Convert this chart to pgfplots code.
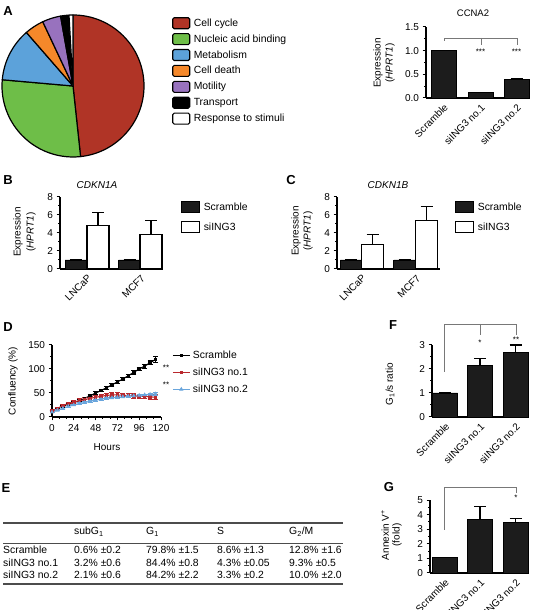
\documentclass[border=0pt]{standalone}
\usepackage{fontspec}
\setmainfont{Liberation Sans}
\setsansfont{Liberation Sans}
\usepackage{pgfplots}
\pgfplotsset{compat=1.18}
\definecolor{ccred}{RGB}{176,52,38}
\definecolor{nagreen}{RGB}{110,190,72}
\definecolor{metblue}{RGB}{92,162,218}
\definecolor{cdorange}{RGB}{245,136,42}
\definecolor{motpurple}{RGB}{152,114,190}
\definecolor{lred}{RGB}{185,40,45}
\definecolor{lblue}{RGB}{105,165,220}
\definecolor{bargray}{RGB}{28,28,28}
\definecolor{brk}{RGB}{120,120,120}
\newcommand{\fs}[1]{\fontsize{#1}{#1}\selectfont}
\newcommand{\pieslice}[3]{\filldraw[fill=#3, draw=black, line width=1.2pt, line join=round] (axis cs:0,0) -- ++({90-3.6*(#1)}:71pt) arc[start angle={90-3.6*(#1)}, delta angle={-3.6*(#2)}, radius=71pt] -- cycle;}
\pgfplotsset{
  gp/.style={
    scale only axis, clip=false,
    axis x line*=bottom, axis y line*=left,
    axis line style={-, line width=1.1pt, black},
    tick align=outside,
    major tick length=3.5pt, minor tick length=2pt,
    every tick/.style={black, line width=1pt},
    tick label style={font=\fs{10}},
    /pgf/number format/assume math mode=true,
    ymin=0,
  },
  gpbar/.style={
    gp, xmin=0,
    xtick style={draw=none},
    xticklabel style={rotate=45, anchor=north east, inner sep=1pt},
  },
  mybar/.style={ybar, bar shift=0pt, bar width=#1, line width=0.8pt,
    error bars/y dir=plus, error bars/y explicit,
    error bars/error mark options={rotate=90, mark size=6pt, line width=1.1pt, black},
    error bars/error bar style={line width=1.1pt, black}},
  errD/.style={error bars/y dir=both, error bars/y explicit,
    error bars/error mark options={rotate=90, mark size=2.5pt, line width=0.9pt},
    error bars/error bar style={line width=0.9pt}},
  boxlegend/.style={legend image code/.code={\draw[##1, line width=1.1pt] (0pt,-5.5pt) rectangle (18pt,5.5pt);}},
}
\begin{document}
\begin{tikzpicture}[x=1pt,y=1pt]
\useasboundingbox (0,0) rectangle (543,610);

% ---------- panel letters ----------
\begin{scope}[every node/.style={font=\bfseries\fs{13}}]
\node at (8,599) {A};
\node at (8,430) {B};
\node at (291,430) {C};
\node at (8,283) {D};
\node at (6,122) {E};
\node at (393,285) {F};
\node at (389,123) {G};
\end{scope}

% ---------- A: pie ----------
\begin{axis}[at={(73pt,524pt)}, anchor=center, hide axis, scale only axis,
  width=142pt, height=142pt, xmin=-1, xmax=1, ymin=-1, ymax=1, clip=false,
  legend image code/.code={\draw[#1, line width=1.1pt, rounded corners=1.5pt] (0pt,-5.5pt) rectangle (17pt,5.5pt);},
  legend style={draw=none, fill=none, at={(1.197,0.986)}, anchor=north west,
    font=\fs{10.4}, row sep=3.8pt, inner sep=0pt, column sep=3pt, nodes={inner sep=0.5pt}},
  legend cell align=left]
\pieslice{0}{48.3}{ccred}
\pieslice{48.3}{28.1}{nagreen}
\pieslice{76.4}{12.2}{metblue}
\pieslice{88.6}{4.4}{cdorange}
\pieslice{93.0}{4.2}{motpurple}
\pieslice{97.2}{1.9}{black}
\pieslice{99.1}{0.9}{white}
\addlegendimage{fill=ccred, draw=black}\addlegendentry{Cell cycle}
\addlegendimage{fill=nagreen, draw=black}\addlegendentry{Nucleic acid binding}
\addlegendimage{fill=metblue, draw=black}\addlegendentry{Metabolism}
\addlegendimage{fill=cdorange, draw=black}\addlegendentry{Cell death}
\addlegendimage{fill=motpurple, draw=black}\addlegendentry{Motility}
\addlegendimage{fill=black, draw=black}\addlegendentry{Transport}
\addlegendimage{fill=white, draw=black}\addlegendentry{Response to stimuli}
\end{axis}

% ---------- A: CCNA2 ----------
\begin{axis}[gpbar, at={(426pt,512pt)}, anchor=south west, width=104pt, height=71pt,
  xmax=104, ymax=1.5, ytick={0,0.5,1,1.5}, minor y tick num=1,
  yticklabel style={/pgf/number format/fixed, /pgf/number format/fixed zerofill, /pgf/number format/precision=1},
  xtick={17.5,54.5,90.5}, xticklabels={Scramble, siING3 no.1, siING3 no.2}]
\addplot[fill=bargray, draw=black, mybar=25pt] coordinates {(17.5,1.0) +- (0,0.01) (54.5,0.11) +- (0,0.01) (90.5,0.40) +- (0,0.02)};
\end{axis}
\node[font=\fs{9.5}] at (473,597) {CCNA2};
\node[rotate=90, font=\fs{10}] at (378,547) {Expression};
\node[rotate=90, font=\fs{10}] at (390,547) {(\textit{HPRT1})};
\draw[brk, line width=0.8pt] (444,569) -- (444,572) -- (517,572) -- (517,565);
\draw[brk, line width=0.8pt] (481,572) -- (481,565);
\node[font=\fs{8}] at (480.5,558) {***};
\node[font=\fs{8}] at (516.5,558) {***};

% ---------- B ----------
\begin{axis}[gpbar, at={(60pt,341pt)}, anchor=south west, width=102pt, height=72pt,
  xmax=102, ymax=8, ytick={0,2,4,6,8}, minor y tick num=1,
  xtick={27,80.5}, xticklabels={LNCaP, MCF7},
  boxlegend,
  legend style={draw=none, fill=none, at={(1.186,0.944)}, anchor=north west,
    font=\fs{10.4}, row sep=7.9pt, inner sep=0pt, column sep=3pt, nodes={inner sep=0.5pt}},
  legend cell align=left]
\addplot[fill=bargray, draw=black, forget plot, mybar=22pt] coordinates {(16,1.0) +- (0,0) (69.5,1.0) +- (0,0)};
\addplot[fill=white, draw=black, forget plot, mybar=22pt, line width=1.3pt] coordinates {(38,4.8) +- (0,1.5) (91,3.8) +- (0,1.6)};
\addlegendimage{fill=bargray, draw=black}\addlegendentry{Scramble}
\addlegendimage{fill=white, draw=black}\addlegendentry{siING3}
\end{axis}
\node[font=\itshape\fs{10}] at (97,425) {CDKN1A};
\node[rotate=90, font=\fs{10}] at (18,378) {Expression};
\node[rotate=90, font=\fs{10}] at (31,378) {(\textit{HPRT1})};

% ---------- C ----------
\begin{axis}[gpbar, at={(337pt,341pt)}, anchor=south west, width=103pt, height=72pt,
  xmax=103, ymax=8, ytick={0,2,4,6,8}, minor y tick num=1,
  xtick={24.5,79}, xticklabels={LNCaP, MCF7},
  boxlegend,
  legend style={draw=none, fill=none, at={(1.146,0.944)}, anchor=north west,
    font=\fs{10.4}, row sep=7.9pt, inner sep=0pt, column sep=3pt, nodes={inner sep=0.5pt}},
  legend cell align=left]
\addplot[fill=bargray, draw=black, forget plot, mybar=21.5pt] coordinates {(14,1.0) +- (0,0) (67.5,1.0) +- (0,0)};
\addplot[fill=white, draw=black, forget plot, mybar=21.5pt, line width=1.3pt] coordinates {(35.5,2.7) +- (0,1.1) (89.5,5.4) +- (0,1.5)};
\addlegendimage{fill=bargray, draw=black}\addlegendentry{Scramble}
\addlegendimage{fill=white, draw=black}\addlegendentry{siING3}
\end{axis}
\node[font=\itshape\fs{10}] at (388,425) {CDKN1B};
\node[rotate=90, font=\fs{10}] at (296,379) {Expression};
\node[rotate=90, font=\fs{10}] at (308,379) {(\textit{HPRT1})};

% ---------- D ----------
\begin{axis}[gp, at={(52pt,193pt)}, anchor=south west, width=109pt, height=72pt,
  xmin=0, xmax=120, ymax=150, xtick={0,24,48,72,96,120}, minor x tick num=2,
  ytick={0,50,100,150}, minor y tick num=1,
  legend style={draw=none, fill=none, at={(1.101,0.93)}, anchor=north west,
    font=\fs{10.4}, row sep=7pt, inner sep=0pt, column sep=2pt, nodes={inner sep=0.5pt}},
  legend cell align=left]
\addplot[black, line width=1.1pt, mark=square*, mark size=1.2pt, errD]
  table[x=h, y=v, y error=e] {
h v e
0 12 1
6 17 1
12 22 1.5
18 26 1.5
24 30 2
30 34 2
36 39 2
42 44 2
48 50 2.5
54 55 2.5
60 61 3
66 67 3
72 73 3
78 79 3
84 86 3.5
90 93 3.5
96 100 4
102 106 4
108 113 4.5
114 120 6
};
\addlegendentry{Scramble}
\addplot[lred, line width=1.1pt, mark=square*, mark size=1.2pt, errD]
  table[x=h, y=v, y error=e] {
h v e
0 12 1
6 18 2
12 24 3
18 28 3
24 31 3.5
30 34 4
36 36 4
42 39 4
48 41 4.5
54 43 5
60 45 5
66 46 5
72 46 5
78 45 5
84 45 5
90 44 5
96 43 5
102 43 5
108 42 5
114 41 5
};
\addlegendentry{siING3 no.1}
\addplot[lblue, line width=1.1pt, mark=triangle*, mark size=1.4pt, errD]
  table[x=h, y=v, y error=e] {
h v e
0 10 1
6 14 1
12 18 1.5
18 22 1.5
24 25 1.5
30 28 2
36 30 2
42 33 2
48 35 2
54 37 2
60 39 2
66 40 2
72 41 2
78 42 2
84 43 2
90 44 2
96 45 2
102 46 2
108 47 2
114 48 2.5
};
\addlegendentry{siING3 no.2}
\end{axis}
\node[rotate=90, font=\fs{10}] at (13,229) {Confluency (\%)};
\node[font=\fs{10}] at (107,163) {Hours};
\node[font=\fs{8}] at (166,242) {**};
\node[font=\fs{8}] at (166,225) {**};

% ---------- F ----------
\begin{axis}[gpbar, at={(432pt,193pt)}, anchor=south west, width=96pt, height=72pt,
  xmax=96, ymax=3, ytick={0,1,2,3}, minor y tick num=1,
  xtick={13,48,83.5}, xticklabels={Scramble, siING3 no.1, siING3 no.2}]
\addplot[fill=bargray, draw=black, mybar=25pt] coordinates {(13,1.0) +- (0,0) (48,2.13) +- (0,0.32) (83.5,2.70) +- (0,0.30)};
\end{axis}
\node[rotate=90, font=\fs{10}] at (390,226) {G\textsubscript{1}/s ratio};
\draw[brk, line width=0.8pt] (444,238) -- (444,286) -- (516,286) -- (516,275);
\draw[brk, line width=0.8pt] (480,286) -- (480,275);
\node[font=\fs{8}] at (480,267) {*};
\node[font=\fs{8}] at (516,270) {**};

% ---------- G ----------
\begin{axis}[gpbar, at={(430pt,37pt)}, anchor=south west, width=98pt, height=73pt,
  xmax=98, ymax=5, ytick={0,1,2,3,4,5}, minor y tick num=1,
  xtick={14.5,50,85.5}, xticklabels={Scramble, siING3 no.1, siING3 no.2}]
\addplot[fill=bargray, draw=black, mybar=25pt] coordinates {(14.5,1.05) +- (0,0) (50,3.68) +- (0,0.87) (85.5,3.45) +- (0,0.30)};
\end{axis}
\node[rotate=90, font=\fs{10}] at (385,75) {Annexin V\textsuperscript{+}};
\node[rotate=90, font=\fs{10}] at (397,75) {(fold)};
\draw[brk, line width=0.8pt] (444,80) -- (444,123) -- (516,123) -- (516,117);
\node[font=\fs{8}] at (516,112) {*};

% ---------- E: table ----------
\draw[line width=1.8pt, black!70] (3,87) -- (343,87);
\draw[line width=0.6pt, black!70] (3,67) -- (343,67);
\draw[line width=1.8pt, black!70] (3,26) -- (343,26);
\begin{scope}[every node/.style={anchor=mid west, inner sep=0pt, font=\fs{10.4}}]
\node at (74,78) {subG\textsubscript{1}};
\node at (146,78) {G\textsubscript{1}};
\node at (217,78) {S};
\node at (289,78) {G\textsubscript{2}/M};
\node at (3,59) {Scramble};
\node at (74,59) {0.6\% ±0.2};
\node at (146,59) {79.8\% ±1.5};
\node at (217,59) {8.6\% ±1.3};
\node at (289,59) {12.8\% ±1.6};
\node at (3,46.5) {siING3 no.1};
\node at (74,46.5) {3.2\% ±0.6};
\node at (146,46.5) {84.4\% ±0.8};
\node at (217,46.5) {4.3\% ±0.05};
\node at (289,46.5) {9.3\% ±0.5};
\node at (3,34) {siING3 no.2};
\node at (74,34) {2.1\% ±0.6};
\node at (146,34) {84.2\% ±2.2};
\node at (217,34) {3.3\% ±0.2};
\node at (289,34) {10.0\% ±2.0};
\end{scope}
\end{tikzpicture}
\end{document}
